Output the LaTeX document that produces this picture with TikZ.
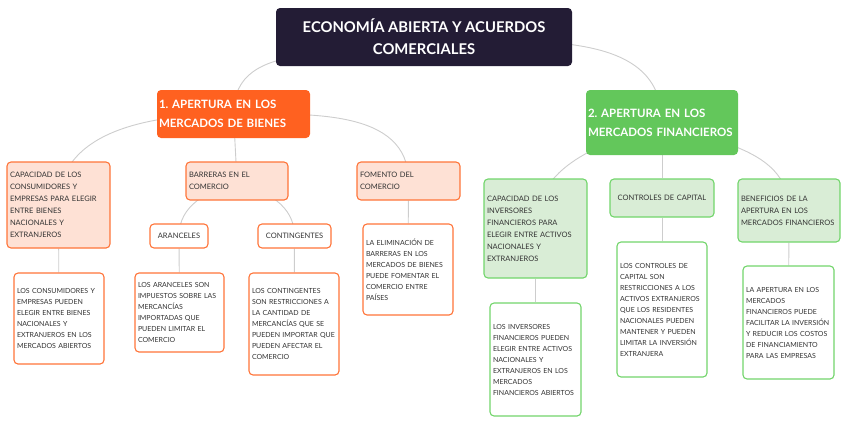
\documentclass[tikz,border=0pt]{standalone}
\usepackage{fontspec}
\setmainfont{Lato}
\usetikzlibrary{positioning, backgrounds}
\definecolor{rootc}{HTML}{231C35}
\definecolor{ormain}{HTML}{FF6120}
\definecolor{orline}{HTML}{FF7439}
\definecolor{orfill}{HTML}{FEE1D5}
\definecolor{grmain}{HTML}{63C75B}
\definecolor{grline}{HTML}{72D56B}
\definecolor{grfill}{HTML}{D9EDD6}
\definecolor{linkc}{HTML}{CDCDCD}
\definecolor{txt}{HTML}{333333}
\frenchspacing

\begin{document}
\begin{tikzpicture}[
  x=1pt, y=1pt,
  link/.style={draw=linkc, line width=0.9pt},
  mainbox/.style={rounded corners=4pt, text=white, font=\bfseries\fontsize{11.5}{19}\selectfont, align=left, inner xsep=2pt, inner ysep=0pt},
  obox/.style={draw=orline, fill=orfill, line width=1.1pt, rounded corners=4pt, text=txt, font=\fontsize{7.5}{12}\selectfont, align=left, inner xsep=3pt, inner ysep=0pt},
  gbox/.style={obox, draw=grline, fill=grfill},
  oleaf/.style={obox, fill=white, font=\fontsize{7}{11}\selectfont},
  gleaf/.style={gbox, fill=white, font=\fontsize{7}{11}\selectfont}
]
  \useasboundingbox (0,0) rectangle (848,-424);

  % Root
  \node[rounded corners=4pt, fill=rootc, text=white, font=\bfseries\fontsize{14.8}{22}\selectfont, align=center,
        minimum width=296pt, minimum height=58pt, inner sep=0pt] (root) at (424,-37)
    {ECONOMÍA ABIERTA Y ACUERDOS\\COMERCIALES};

  % Two branches
  \node[mainbox, fill=ormain, text width=149pt, minimum height=48pt] (bienes) at (233.5,-114)
    {1. APERTURA EN LOS\\MERCADOS DE BIENES};
  \node[mainbox, fill=grmain, text width=148pt, minimum height=65pt] (finan) at (662,-122.5)
    {2. APERTURA EN LOS\\MERCADOS FINANCIEROS};

  % Goods market
  \node[obox, text width=97pt, minimum height=86pt] (capcons) at (58.5,-205)
    {CAPACIDAD DE LOS\\CONSUMIDORES Y\\EMPRESAS PARA ELEGIR\\ENTRE BIENES\\NACIONALES Y\\EXTRANJEROS};
  \node[obox, text width=96pt, minimum height=38pt] (barreras) at (237,-181)
    {BARRERAS EN EL\\COMERCIO};
  \node[obox, text width=97pt, minimum height=38pt] (fomento) at (408.5,-181)
    {FOMENTO DEL\\COMERCIO};
  \node[obox, fill=white, align=center, text width=52pt, minimum height=24pt] (aranc) at (179,-236)
    {ARANCELES};
  \node[obox, fill=white, align=center, text width=67pt, minimum height=24pt] (conting) at (294.5,-236)
    {CONTINGENTES};

  \node[oleaf, text width=84pt, minimum height=91pt] (capcons-t) at (59,-318.5)
    {LOS CONSUMIDORES Y\\EMPRESAS PUEDEN\\ELEGIR ENTRE BIENES\\NACIONALES Y\\EXTRANJEROS EN LOS\\MERCADOS ABIERTOS};
  \node[oleaf, text width=83pt, minimum height=79pt] (aranc-t) at (179.5,-312.5)
    {LOS ARANCELES SON\\IMPUESTOS SOBRE LAS\\MERCANCÍAS\\IMPORTADAS QUE\\PUEDEN LIMITAR EL\\COMERCIO};
  \node[oleaf, text width=84pt, minimum height=102pt] (conting-t) at (294,-324)
    {LOS CONTINGENTES\\SON RESTRICCIONES A\\LA CANTIDAD DE\\MERCANCÍAS QUE SE\\PUEDEN IMPORTAR QUE\\PUEDEN AFECTAR EL\\COMERCIO};
  \node[oleaf, text width=84pt, minimum height=91pt] (fomento-t) at (408,-269.5)
    {LA ELIMINACIÓN DE\\BARRERAS EN LOS\\MERCADOS DE BIENES\\PUEDE FOMENTAR EL\\COMERCIO ENTRE\\PAÍSES};

  % Financial market
  \node[gbox, text width=97pt, minimum height=99pt] (capinv) at (535.5,-228.5)
    {CAPACIDAD DE LOS\\INVERSORES\\FINANCIEROS PARA\\ELEGIR ENTRE ACTIVOS\\NACIONALES Y\\EXTRANJEROS};
  \node[gbox, align=center, text width=98pt, minimum height=38pt] (control) at (662,-198)
    {CONTROLES DE CAPITAL};
  \node[gbox, text width=96pt, minimum height=63pt] (benef) at (789,-210.5)
    {BENEFICIOS DE LA\\APERTURA EN LOS\\MERCADOS FINANCIEROS};

  \node[gleaf, text width=85pt, minimum height=113pt] (capinv-t) at (535.5,-359.5)
    {LOS INVERSORES\\FINANCIEROS PUEDEN\\ELEGIR ENTRE ACTIVOS\\NACIONALES Y\\EXTRANJEROS EN LOS\\MERCADOS\\FINANCIEROS ABIERTOS};
  \node[gleaf, text width=84pt, minimum height=135pt] (control-t) at (662,-309.5)
    {LOS CONTROLES DE\\CAPITAL SON\\RESTRICCIONES A LOS\\ACTIVOS EXTRANJEROS\\QUE LOS RESIDENTES\\NACIONALES PUEDEN\\MANTENER Y PUEDEN\\LIMITAR LA INVERSIÓN\\EXTRANJERA};
  \node[gleaf, text width=85pt, minimum height=113pt] (benef-t) at (788.5,-322.5)
    {LA APERTURA EN LOS\\MERCADOS\\FINANCIEROS PUEDE\\FACILITAR LA INVERSIÓN\\Y REDUCIR LOS COSTOS\\DE FINANCIAMIENTO\\PARA LAS EMPRESAS};

  % Links
  \begin{scope}[on background layer]
    \draw[link] (root.center) to[out=200, in=90] (bienes.center);
    \draw[link] (root.center) to[out=-5, in=90] (finan.center);
    \draw[link] (bienes.center) to[out=180, in=90] (capcons.center);
    \draw[link] (bienes.center) -- (barreras.center);
    \draw[link] (bienes.center) to[out=0, in=90] (fomento.center);
    \draw[link] (barreras.center) to[out=200, in=90] (aranc.center);
    \draw[link] (barreras.center) to[out=-20, in=90] (conting.center);
    \draw[link] (capcons) -- (capcons-t);
    \draw[link] (aranc) -- (aranc-t);
    \draw[link] (conting) -- (conting-t);
    \draw[link] (fomento) -- (fomento-t);
    \draw[link] (finan.center) to[out=200, in=90] (capinv.center);
    \draw[link] (finan) -- (control);
    \draw[link] (finan.center) to[out=-20, in=90] (benef.center);
    \draw[link] (capinv) -- (capinv-t);
    \draw[link] (control) -- (control-t);
    \draw[link] (benef) -- (benef-t);
  \end{scope}
\end{tikzpicture}
\end{document}
